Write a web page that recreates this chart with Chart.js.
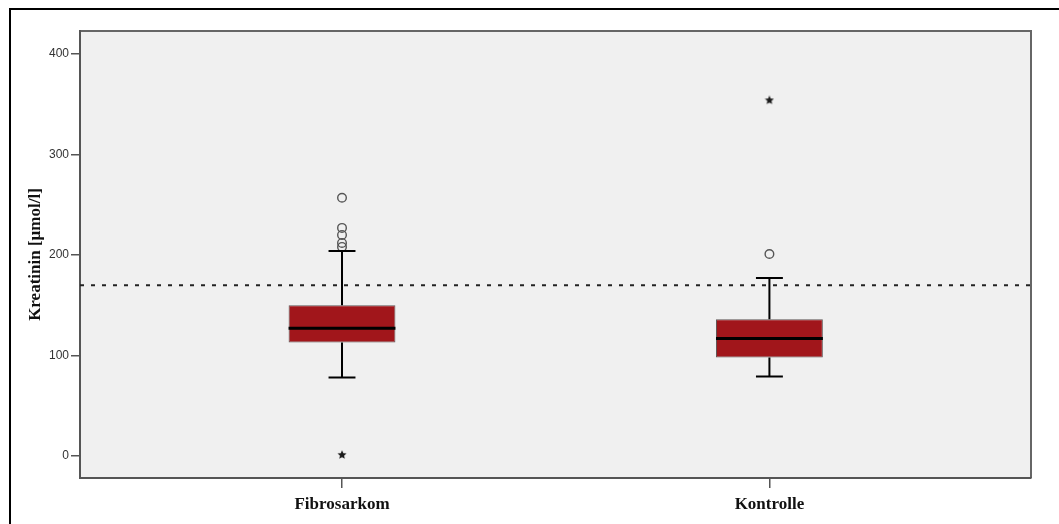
<!DOCTYPE html>
<html>
<head>
<meta charset="utf-8">
<script src="https://cdn.jsdelivr.net/npm/chart.js@4"></script>
<style>
  html, body { margin: 0; padding: 0; background: #fff; overflow: hidden; width: 1059px; height: 524px; }
  #frame { position: absolute; left: 9px; top: 8px; width: 1200px; height: 700px;
           border-top: 2px solid #000; border-left: 2px solid #000; }
  #c { position: absolute; left: 0; top: 0; }
</style>
</head>
<body>
<div id="frame"></div>
<canvas id="c" width="1059" height="524"></canvas>
<script>
// Groups and box-plot statistics (Kreatinin, µmol/l)
const categories   = ['Fibrosarkom', 'Kontrolle'];
const q1           = [113, 98];
const median       = [127, 117];
const q3           = [150, 136];
const whiskerLow   = [78, 79];
const whiskerHigh  = [204, 177];
const outlierCircles = [[257, 227, 220, 212, 208], [201]];   // mild outliers (o)
const extremeStars   = [[1], [354]];                         // extreme values (*)
const referenceValue = 170;                                  // dashed reference line
const yTicks = [0, 100, 200, 300, 400];

const X_MIN = 0.387, X_MAX = 2.612;
const CAP_WIDTH = 0.063;   // whisker cap width in x units

function makeStar(size, color) {
  const c = document.createElement('canvas');
  c.width = c.height = size;
  const g = c.getContext('2d');
  g.fillStyle = color;
  g.beginPath();
  const r = size / 2, ri = r * 0.45;
  for (let k = 0; k < 10; k++) {
    const rad = (k % 2 ? ri : r) * 0.95;
    const ang = -Math.PI / 2 + k * Math.PI / 5;
    g.lineTo(r + rad * Math.cos(ang), r + rad * Math.sin(ang));
  }
  g.closePath();
  g.fill();
  return c;
}
const starImg = makeStar(10, '#1a1a1a');

// grey plotting panel with a frame on top and right
const plotPanel = {
  id: 'plotPanel',
  beforeDraw(chart) {
    const { ctx, chartArea: a } = chart;
    ctx.save();
    ctx.fillStyle = '#f0f0f0';
    ctx.fillRect(a.left, a.top, a.right - a.left, a.bottom - a.top);
    ctx.strokeStyle = '#666';
    ctx.lineWidth = 2;
    ctx.beginPath();
    ctx.moveTo(a.left, a.top);
    ctx.lineTo(a.right, a.top);
    ctx.lineTo(a.right, a.bottom);
    ctx.stroke();
    ctx.restore();
  }
};

// whiskers, caps and median lines for each box
const boxWhiskers = {
  id: 'boxWhiskers',
  afterDatasetsDraw(chart) {
    const { ctx, scales: { x, y } } = chart;
    const bars = chart.getDatasetMeta(1).data;
    ctx.save();
    ctx.strokeStyle = '#000';
    categories.forEach((c, i) => {
      const pos = i + 1;
      const cx = x.getPixelForValue(pos);
      const capHalf = x.getPixelForValue(pos + CAP_WIDTH / 2) - cx;
      ctx.lineWidth = 2;
      ctx.beginPath();
      ctx.moveTo(cx, y.getPixelForValue(q3[i]));
      ctx.lineTo(cx, y.getPixelForValue(whiskerHigh[i]));
      ctx.moveTo(cx, y.getPixelForValue(q1[i]));
      ctx.lineTo(cx, y.getPixelForValue(whiskerLow[i]));
      ctx.moveTo(cx - capHalf, y.getPixelForValue(whiskerHigh[i]));
      ctx.lineTo(cx + capHalf, y.getPixelForValue(whiskerHigh[i]));
      ctx.moveTo(cx - capHalf, y.getPixelForValue(whiskerLow[i]));
      ctx.lineTo(cx + capHalf, y.getPixelForValue(whiskerLow[i]));
      ctx.stroke();
      const bar = bars[i];
      const half = bar.width / 2;
      ctx.lineWidth = 3;
      ctx.beginPath();
      ctx.moveTo(bar.x - half, y.getPixelForValue(median[i]));
      ctx.lineTo(bar.x + half, y.getPixelForValue(median[i]));
      ctx.stroke();
    });
    ctx.restore();
  }
};

const serifBold = { family: '"Liberation Serif", "Times New Roman", serif', size: 17, weight: 'bold' };

new Chart(document.getElementById('c'), {
  type: 'bar',
  data: {
    datasets: [
      {
        type: 'line',
        order: 3,
        data: [{ x: X_MIN, y: referenceValue }, { x: X_MAX, y: referenceValue }],
        borderColor: '#222',
        borderWidth: 2,
        borderDash: [4, 7],
        pointRadius: 0,
        fill: false
      },
      {
        type: 'bar',
        order: 2,
        data: categories.map((c, i) => ({ x: i + 1, y: [q1[i], q3[i]] })),
        backgroundColor: '#a1161b',
        borderColor: 'rgba(70,60,60,0.85)',
        borderWidth: 1,
        borderSkipped: false,
        barPercentage: 0.25,
        categoryPercentage: 1
      },
      {
        type: 'scatter',
        order: 1,
        data: outlierCircles.flatMap((arr, i) => arr.map(v => ({ x: i + 1, y: v }))),
        pointStyle: 'circle',
        pointRadius: 4.3,
        borderColor: '#555',
        borderWidth: 1.4,
        backgroundColor: 'rgba(0,0,0,0)'
      },
      {
        type: 'scatter',
        order: 1,
        data: extremeStars.flatMap((arr, i) => arr.map(v => ({ x: i + 1, y: v }))),
        pointStyle: starImg
      }
    ]
  },
  options: {
    responsive: false,
    animation: false,
    layout: { padding: { left: 0, top: 31, right: 28, bottom: 0 } },
    plugins: { legend: { display: false }, tooltip: { enabled: false } },
    scales: {
      x: {
        type: 'linear',
        min: X_MIN,
        max: X_MAX,
        offset: false,
        afterBuildTicks: s => { s.ticks = categories.map((c, i) => ({ value: i + 1 })); },
        afterFit: s => { s.height = 46; },
        grid: { drawOnChartArea: false, tickLength: 10, color: '#555', lineWidth: 1.5, offset: false },
        border: { color: '#555', width: 2 },
        ticks: {
          callback: (v, idx) => categories[idx],
          font: serifBold,
          color: '#111',
          padding: 6,
          maxRotation: 0,
          autoSkip: false
        }
      },
      y: {
        min: -22,
        max: 423,
        afterBuildTicks: s => { s.ticks = yTicks.map(v => ({ value: v })); },
        afterFit: s => { s.width = 80; },
        grid: { drawOnChartArea: false, tickLength: 9, color: '#555', lineWidth: 1.5 },
        border: { color: '#555', width: 2 },
        ticks: { font: { family: '"Liberation Sans", Arial, sans-serif', size: 12 }, color: '#333', padding: 2 },
        title: {
          display: true,
          text: 'Kreatinin [µmol/l]',
          font: serifBold,
          color: '#111',
          padding: { top: 25, bottom: 0 }
        }
      }
    }
  },
  plugins: [plotPanel, boxWhiskers]
});
</script>
</body>
</html>
